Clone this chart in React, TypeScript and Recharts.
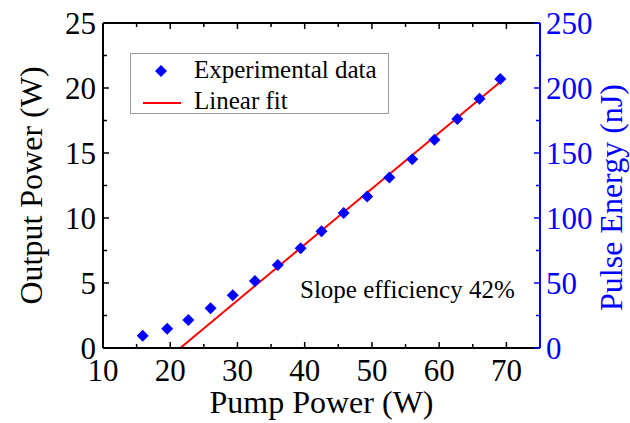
import React from 'react';
import { ComposedChart, Scatter, Line, XAxis, YAxis, Legend, Label } from 'recharts';

const pumpPower = [15.9, 19.55, 22.7, 26.0, 29.3, 32.6, 36.0, 39.4, 42.5, 45.8, 49.3, 52.6, 56.0, 59.3, 62.7, 66.0, 69.1];
const outputPower = [0.95, 1.48, 2.15, 3.05, 4.05, 5.15, 6.38, 7.68, 8.98, 10.38, 11.66, 13.12, 14.52, 16.02, 17.62, 19.18, 20.7];
const fitPump = [21.5, 69.4];
const fitOutput = [0, 20.6];
const xTicks = [10, 15, 20, 25, 30, 35, 40, 45, 50, 55, 60, 65, 70];
const leftTicks = [0, 2.5, 5, 7.5, 10, 12.5, 15, 17.5, 20, 22.5, 25];
const rightTicks = [0, 25, 50, 75, 100, 125, 150, 175, 200, 225, 250];
const xTitle = 'Pump Power (W)';
const leftTitle = 'Output Power (W)';
const rightTitle = 'Pulse Energy (nJ)';
const seriesNames = ['Experimental data', 'Linear fit'];
const note = 'Slope efficiency 42%';

const expData = pumpPower.map((x, i) => ({ x, y: outputPower[i] }));
const fitData = fitPump.map((x, i) => ({ x, y: fitOutput[i] }));

const FONT = "'Liberation Serif', 'Times New Roman', Tinos, 'DejaVu Serif', serif";
const BLUE = '#0000FF';
const RED = '#FF0000';
const txt = (size: number, color: string) => ({ fontFamily: FONT, fontSize: size, fill: color });

const BottomTick = (props: any) => {
  const { x, y, payload } = props;
  const v = payload.value;
  const major = v % 10 === 0;
  return (
    <g>
      <line x1={x} y1={y} x2={x} y2={y - (major ? 6 : 4)} stroke="#000" strokeWidth={1.5} />
      {major && (
        <text x={x} y={y + 33} textAnchor="middle" style={txt(31, '#000')}>
          {v}
        </text>
      )}
    </g>
  );
};

const TopTick = (props: any) => {
  const { x, y, payload } = props;
  const major = payload.value % 10 === 0;
  return <line x1={x} y1={y} x2={x} y2={y + (major ? 6 : 4)} stroke="#000" strokeWidth={1.5} />;
};

const LeftTick = (props: any) => {
  const { x, y, payload } = props;
  const v = payload.value;
  const major = v % 5 === 0;
  return (
    <g>
      <line x1={x} y1={y} x2={x + (major ? 6 : 4)} y2={y} stroke="#000" strokeWidth={1.5} />
      {major && (
        <text x={x - 7} y={y + 10.5} textAnchor="end" style={txt(31, '#000')}>
          {v}
        </text>
      )}
    </g>
  );
};

const RightTick = (props: any) => {
  const { x, y, payload } = props;
  const v = payload.value;
  const major = v % 50 === 0;
  return (
    <g>
      <line x1={x} y1={y} x2={x - (major ? 6 : 4)} y2={y} stroke={BLUE} strokeWidth={1.5} />
      {major && (
        <text x={x + 6} y={y + 10.5} textAnchor="start" style={txt(31, BLUE)}>
          {v}
        </text>
      )}
    </g>
  );
};

const Diamond = (props: any) => {
  const { cx, cy } = props;
  const r = 6;
  if (cx == null || cy == null) return null;
  return <path d={`M${cx},${cy - r}L${cx + r},${cy}L${cx},${cy + r}L${cx - r},${cy}Z`} fill={BLUE} />;
};

const LegendContent = (props: any) => {
  const payload = props.payload || [];
  const names = payload.length ? payload.map((p: any) => p.value) : seriesNames;
  return (
    <div
      style={{
        width: 259,
        height: 61,
        boxSizing: 'border-box',
        border: '1px solid #999',
        background: '#fff',
        position: 'relative',
      }}
    >
      <svg width={259} height={61} style={{ position: 'absolute', left: -1, top: -1 }}>
        <path d="M31,12L37,18L31,24L25,18Z" fill={BLUE} />
        <text x={64} y={25} style={txt(25, '#000')}>
          {names[0]}
        </text>
        <line x1={13} y1={50} x2={51} y2={50} stroke={RED} strokeWidth={2} />
        <text x={64} y={56} style={txt(25, '#000')}>
          {names[1]}
        </text>
      </svg>
    </div>
  );
};

const LeftTitle = (props: any) => {
  const vb = props.viewBox || {};
  const cx = (vb.x || 0) + 41.5;
  const cy = (vb.y || 0) + (vb.height || 0) / 2;
  return (
    <text x={cx} y={cy} transform={`rotate(-90, ${cx}, ${cy})`} textAnchor="middle" style={txt(32, '#000')}>
      {leftTitle}
    </text>
  );
};

const RightTitle = (props: any) => {
  const vb = props.viewBox || {};
  const cx = (vb.x || 0) + 82;
  const cy = (vb.y || 0) + (vb.height || 0) / 2 + 12;
  return (
    <text x={cx} y={cy} transform={`rotate(-90, ${cx}, ${cy})`} textAnchor="middle" style={txt(32, BLUE)}>
      {rightTitle}
    </text>
  );
};

const BottomTitle = (props: any) => {
  const vb = props.viewBox || {};
  const cx = (vb.x || 0) + (vb.width || 0) / 2;
  const cy = (vb.y || 0) + 65;
  return (
    <text x={cx} y={cy} textAnchor="middle" style={txt(32, '#000')}>
      {xTitle}
    </text>
  );
};

export default function App() {
  return (
    <div style={{ position: 'absolute', left: 0, top: 0, width: 630, height: 423, background: '#fff', fontFamily: FONT }}>
      <ComposedChart width={630} height={423} margin={{ top: 0, right: 0, bottom: 0, left: 0 }}>
        <XAxis
          xAxisId="bottom"
          dataKey="x"
          type="number"
          domain={[10, 75]}
          allowDataOverflow
          ticks={xTicks}
          interval={0}
          height={75}
          tickSize={0}
          tickMargin={0}
          tick={BottomTick}
          tickLine={false}
          axisLine={{ stroke: '#000', strokeWidth: 2 }}
        >
          <Label content={BottomTitle} />
        </XAxis>
        <XAxis
          xAxisId="top"
          orientation="top"
          dataKey="x"
          type="number"
          domain={[10, 75]}
          allowDataOverflow
          ticks={xTicks}
          interval={0}
          height={23}
          tickSize={0}
          tickMargin={0}
          tick={TopTick}
          tickLine={false}
          axisLine={{ stroke: '#000', strokeWidth: 2 }}
        />
        <YAxis
          yAxisId="left"
          type="number"
          domain={[0, 25]}
          allowDataOverflow
          ticks={leftTicks}
          interval={0}
          width={103}
          tickSize={0}
          tickMargin={0}
          tick={LeftTick}
          tickLine={false}
          axisLine={{ stroke: '#000', strokeWidth: 2 }}
        >
          <Label content={LeftTitle} />
        </YAxis>
        <YAxis
          yAxisId="right"
          orientation="right"
          type="number"
          domain={[0, 250]}
          allowDataOverflow
          ticks={rightTicks}
          interval={0}
          width={90}
          tickSize={0}
          tickMargin={0}
          tick={RightTick}
          tickLine={false}
          axisLine={{ stroke: BLUE, strokeWidth: 2 }}
        >
          <Label content={RightTitle} />
        </YAxis>
        <Line
          xAxisId="bottom"
          yAxisId="left"
          data={fitData}
          dataKey="y"
          name={seriesNames[1]}
          stroke={RED}
          strokeWidth={2}
          dot={false}
          activeDot={false}
          isAnimationActive={false}
          legendType="line"
        />
        <Scatter
          xAxisId="bottom"
          yAxisId="left"
          data={expData}
          dataKey="y"
          name={seriesNames[0]}
          fill={BLUE}
          shape={Diamond}
          isAnimationActive={false}
          legendType="diamond"
        />
        <Legend
          layout="vertical"
          align="center"
          verticalAlign="middle"
          wrapperStyle={{ left: 130, top: 53, width: 259, height: 61 }}
          content={LegendContent}
        />
      </ComposedChart>
      <svg width={630} height={423} style={{ position: 'absolute', left: 0, top: 0, pointerEvents: 'none' }}>
        <text x={300} y={298} style={txt(25, '#000')}>
          {note}
        </text>
      </svg>
    </div>
  );
}
